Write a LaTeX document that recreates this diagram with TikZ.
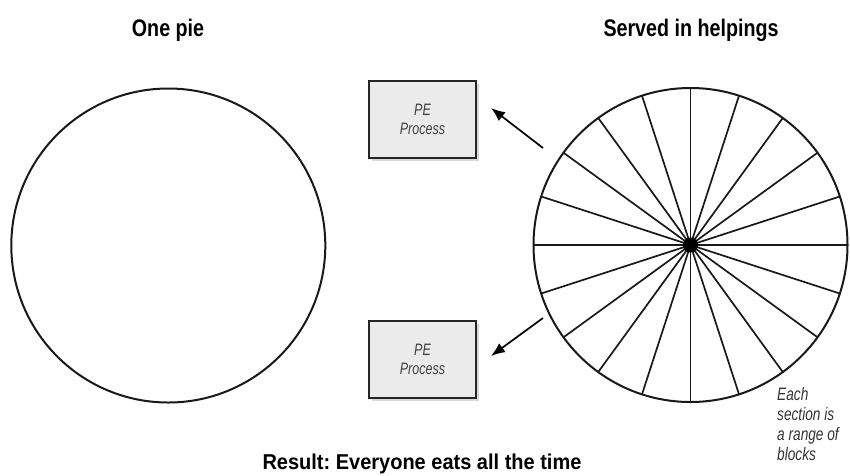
\documentclass[tikz,border=0pt]{standalone}
\usepackage{fontspec}
\setmainfont{Liberation Sans}
\newfontfamily\headfont[FakeStretch=0.82]{Liberation Sans}
\newfontfamily\resultfont[FakeStretch=0.93]{Liberation Sans}
\newfontfamily\notefont[FakeStretch=0.76]{Liberation Sans}
\usetikzlibrary{arrows.meta,shadows}
\frenchspacing

\tikzset{
  headline/.style={font=\headfont\bfseries\fontsize{24}{28}\selectfont, anchor=base, inner sep=0pt},
  pecard/.style={draw=black!85, line width=1.8pt, fill=black!8,
    minimum width=107pt, minimum height=77pt, inner sep=0pt, align=center,
    text=black!75, font=\notefont\itshape\fontsize{16.5}{19}\selectfont,
    drop shadow={shadow xshift=3pt, shadow yshift=-3pt, opacity=0.3}},
  pierim/.style={circle, draw=black!90, line width=2pt, minimum size=314pt, inner sep=0pt},
  spoke/.style={draw=black!90, line width=1.7pt},
  handout/.style={line width=1.7pt, -{Latex[length=14pt,width=11pt]}},
  sidenote/.style={font=\notefont\itshape\fontsize{18}{20}\selectfont, text=black!80,
    align=left, anchor=north west, inner sep=0pt}
}

\begin{document}
\begin{tikzpicture}[x=1pt, y=-1pt]
  \useasboundingbox (0,0) rectangle (850,475);

  % headings
  \node[headline] (onepie) at (168,36) {One pie};
  \node[headline] (served) at (691,36) {Served in helpings};

  % the whole pie
  \node[pierim] (whole) at (168.3,245.5) {};

  % the pie cut into twenty helpings
  \node[pierim] (sliced) at (690.5,245) {};
  \foreach \a in {0,18,...,162}
    \draw[spoke] (sliced.center) ++(\a:157pt) -- ++(\a+180:314pt);
  \fill[black] (sliced.center) circle (7.5pt);

  % processing elements
  \node[pecard] (pe1) at (422.5,119.5) {PE\\Process};
  \node[pecard] (pe2) at (422.5,359.5) {PE\\Process};

  % helpings handed out
  \coordinate (from1) at (543,148);
  \coordinate (to1) at (491,108);
  \coordinate (from2) at (543,318);
  \coordinate (to2) at (491,356);
  \draw[handout] (from1) -- (to1);
  \draw[handout] (from2) -- (to2);

  % note on sections
  \node[sidenote] (note) at (777,387) {Each\\section is\\a range of\\blocks};

  % result line
  \node[font=\resultfont\bfseries\fontsize{21.5}{25}\selectfont, anchor=base, inner sep=0pt]
    (result) at (422,469) {Result: Everyone eats all the time};
\end{tikzpicture}
\end{document}
